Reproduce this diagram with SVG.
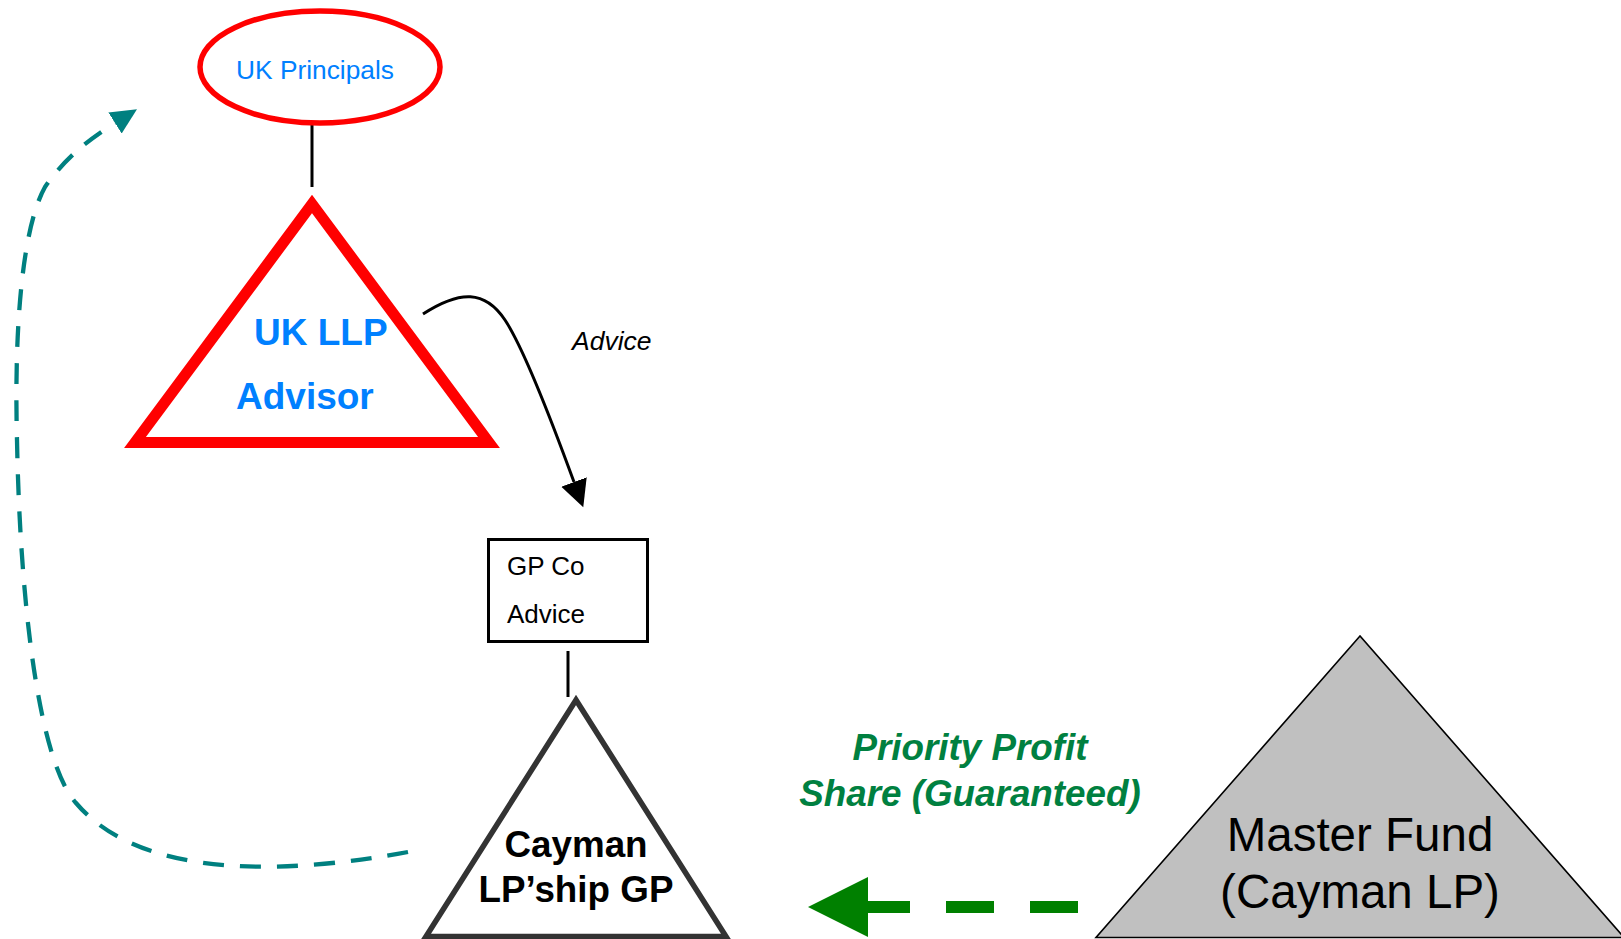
<svg xmlns="http://www.w3.org/2000/svg" width="1621" height="939" viewBox="0 0 1621 939">
  <style>
    text { font-family: "Liberation Sans", Arial, sans-serif; }
    .blue { fill: #0080ff; }
    .bold { font-weight: bold; }
    .link { fill: none; stroke: #000; stroke-width: 3; }
    .profit { font-size: 36.8px; font-weight: bold; font-style: italic; fill: #008040; }
  </style>
  <defs>
    <marker id="arrowBlack" markerUnits="userSpaceOnUse" markerWidth="28" markerHeight="28" refX="0" refY="13.5" orient="auto">
      <path d="M0,0 L27,13.5 L0,27 z" fill="#000"/>
    </marker>
    <marker id="arrowTeal" markerUnits="userSpaceOnUse" markerWidth="28" markerHeight="28" refX="0" refY="12.5" orient="auto">
      <path d="M0,0 L26,12.5 L0,25 z" fill="#008080"/>
    </marker>
    <marker id="arrowGreen" markerUnits="userSpaceOnUse" markerWidth="62" markerHeight="62" refX="0" refY="30" orient="auto">
      <path d="M0,0 L60,30 L0,60 z" fill="#008000"/>
    </marker>
  </defs>

  <rect width="1621" height="939" fill="#fff"/>

  <!-- Master Fund (Cayman LP) -->
  <g id="master-fund">
    <polygon points="1360,636 1096,937.5 1624,937.5" fill="#c0c0c0" stroke="#000" stroke-width="1.6"/>
    <text x="1360" y="851" font-size="47.5" text-anchor="middle">Master Fund</text>
    <text x="1360" y="908" font-size="47.5" text-anchor="middle">(Cayman LP)</text>
  </g>

  <!-- connectors -->
  <g id="connectors">
    <!-- UK Principals to UK LLP -->
    <line x1="312" y1="123" x2="312" y2="187" class="link"/>
    <!-- GP Co box to Cayman GP -->
    <line x1="568" y1="651" x2="568" y2="697" class="link"/>
    <!-- Advice flow -->
    <path d="M423,314 C460,290 485,290 505,320 C525,350 555,430 574,482" class="link" marker-end="url(#arrowBlack)"/>
    <!-- return flow back to principals -->
    <path d="M408,852 C300,872 145,884 76,803 C38,760 20,600 17,440 C14,330 22,228 45,187 C65,158 88,140 115,123"
          fill="none" stroke="#008080" stroke-width="4.3" stroke-dasharray="21 16" marker-end="url(#arrowTeal)"/>
    <!-- priority profit share -->
    <path d="M1078,907 L868,907" fill="none" stroke="#008000" stroke-width="12" stroke-dasharray="48 36" marker-end="url(#arrowGreen)"/>
    <text x="572" y="350" font-size="26.5" font-style="italic">Advice</text>
    <text x="970" y="760" class="profit" text-anchor="middle">Priority Profit</text>
    <text x="970" y="806" class="profit" text-anchor="middle">Share (Guaranteed)</text>
  </g>

  <!-- UK Principals -->
  <g id="uk-principals">
    <ellipse cx="320" cy="67" rx="120" ry="56" fill="#fff" stroke="#ff0000" stroke-width="5.5"/>
    <text x="315" y="79" font-size="26.3" text-anchor="middle" class="blue">UK Principals</text>
  </g>

  <!-- UK LLP Advisor -->
  <g id="uk-llp-advisor">
    <polygon points="312,204 135,442.5 489,442.5" fill="#fff" stroke="#ff0000" stroke-width="11"/>
    <text x="254" y="345" font-size="37" class="blue bold">UK LLP</text>
    <text x="236" y="409" font-size="37" class="blue bold">Advisor</text>
  </g>

  <!-- GP Co Advice -->
  <g id="gp-co">
    <rect x="488.5" y="539.5" width="159" height="102" fill="#fff" stroke="#000" stroke-width="3"/>
    <text x="507" y="575" font-size="26">GP Co</text>
    <text x="507" y="623" font-size="26">Advice</text>
  </g>

  <!-- Cayman LP'ship GP -->
  <g id="cayman-gp">
    <polygon points="576,700 426,936.5 726,936.5" fill="#fff" stroke="#333" stroke-width="5.5"/>
    <text x="576" y="857" font-size="36.8" font-weight="bold" text-anchor="middle">Cayman</text>
    <text x="576" y="902" font-size="36.8" font-weight="bold" text-anchor="middle">LP’ship GP</text>
  </g>
</svg>
